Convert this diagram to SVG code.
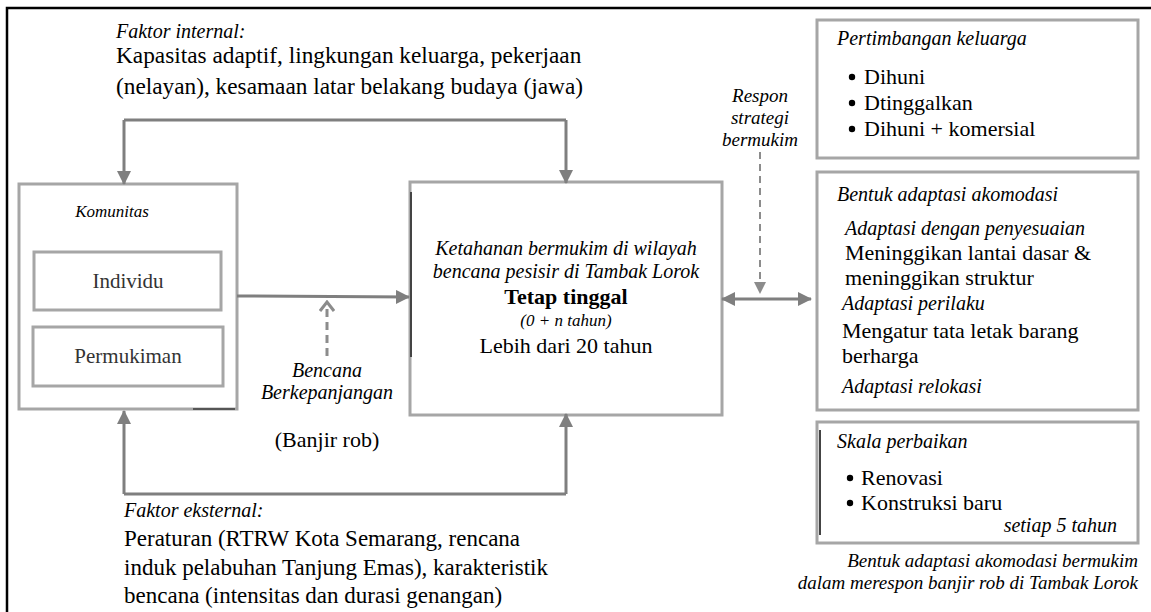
<svg xmlns="http://www.w3.org/2000/svg" width="1151" height="612" viewBox="0 0 1151 612">
<defs>
<marker id="ah" viewBox="0 0 14 14" refX="13" refY="7" markerWidth="14" markerHeight="14" markerUnits="userSpaceOnUse" orient="auto-start-reverse"><path d="M0 0 L14 7 L0 14 Z" fill="#7f7f7f"/></marker>
<marker id="ahs" viewBox="0 0 12 12" refX="11" refY="6" markerWidth="12" markerHeight="12" markerUnits="userSpaceOnUse" orient="auto"><path d="M0 0 L12 6 L0 12 Z" fill="#8c8c8c"/></marker>
<marker id="chev" viewBox="0 0 12 16" refX="10" refY="8" markerWidth="12" markerHeight="16" markerUnits="userSpaceOnUse" orient="auto"><path d="M1 1 L10 8 L1 15" fill="none" stroke="#8c8c8c" stroke-width="3"/></marker>
</defs>
<rect x="0" y="0" width="1151" height="612" fill="#fff"/>
<path d="M7 612 V8 H1151" fill="none" stroke="#000" stroke-width="2.5"/>

<g id="faktor-internal">
<text x="116" y="38" font-family="Liberation Serif" font-style="italic" font-size="20">Faktor internal:</text>
<text x="116" y="63" font-family="Liberation Serif" font-size="23.3">Kapasitas adaptif, lingkungan keluarga, pekerjaan</text>
<text x="116" y="94" font-family="Liberation Serif" font-size="23.3">(nelayan), kesamaan latar belakang budaya (jawa)</text>
</g>

<g id="komunitas">
<rect x="19" y="184" width="218" height="225" fill="#fff" stroke="#a6a6a6" stroke-width="3"/>
<line x1="193" y1="409" x2="235" y2="409" stroke="#555" stroke-width="2"/>
<text x="112" y="217" text-anchor="middle" font-family="Liberation Serif" font-style="italic" font-size="17">Komunitas</text>
</g>
<g id="individu">
<rect x="34" y="252" width="187" height="58" fill="#fff" stroke="#a6a6a6" stroke-width="3"/>
<text x="128" y="288" text-anchor="middle" fill="#333" font-family="Liberation Serif" font-size="21">Individu</text>
</g>
<g id="permukiman">
<rect x="33" y="327" width="190" height="59" fill="#fff" stroke="#a6a6a6" stroke-width="3"/>
<text x="128" y="363" text-anchor="middle" fill="#333" font-family="Liberation Serif" font-size="21">Permukiman</text>
</g>

<g id="ketahanan">
<rect x="410" y="182" width="312" height="233" fill="#fff" stroke="#a6a6a6" stroke-width="3"/>
<line x1="411" y1="192" x2="411" y2="357" stroke="#444" stroke-width="2"/>
<text x="566" y="255" text-anchor="middle" font-family="Liberation Serif" font-style="italic" font-size="20">Ketahanan bermukim di wilayah</text>
<text x="566" y="278" text-anchor="middle" font-family="Liberation Serif" font-style="italic" font-size="20">bencana pesisir di Tambak Lorok</text>
<text x="566" y="304" text-anchor="middle" font-family="Liberation Serif" font-weight="bold" font-size="22">Tetap tinggal</text>
<text x="566" y="326" text-anchor="middle" font-family="Liberation Serif" font-style="italic" font-size="17">(0 + n tahun)</text>
<text x="566" y="353" text-anchor="middle" font-family="Liberation Serif" font-size="22">Lebih dari 20 tahun</text>
</g>

<g id="bencana">
<text x="327" y="377" text-anchor="middle" font-family="Liberation Serif" font-style="italic" font-size="20">Bencana</text>
<text x="327" y="399" text-anchor="middle" font-family="Liberation Serif" font-style="italic" font-size="20">Berkepanjangan</text>
<text x="327" y="447" text-anchor="middle" font-family="Liberation Serif" font-size="22">(Banjir rob)</text>
</g>

<g id="faktor-eksternal">
<text x="124" y="517" font-family="Liberation Serif" font-style="italic" font-size="20">Faktor eksternal:</text>
<text x="124" y="546" font-family="Liberation Serif" font-size="23">Peraturan (RTRW Kota Semarang, rencana</text>
<text x="124" y="575" font-family="Liberation Serif" font-size="23">induk pelabuhan Tanjung Emas), karakteristik</text>
<text x="124" y="603" font-family="Liberation Serif" font-size="23">bencana (intensitas dan durasi genangan)</text>
</g>

<g id="respon">
<text x="760" y="102" text-anchor="middle" font-family="Liberation Serif" font-style="italic" font-size="19">Respon</text>
<text x="760" y="124" text-anchor="middle" font-family="Liberation Serif" font-style="italic" font-size="19">strategi</text>
<text x="760" y="146" text-anchor="middle" font-family="Liberation Serif" font-style="italic" font-size="19">bermukim</text>
</g>

<g id="pertimbangan">
<rect x="817" y="20" width="321" height="138" fill="#fff" stroke="#a6a6a6" stroke-width="3"/>
<text x="837" y="45" font-family="Liberation Serif" font-style="italic" font-size="20">Pertimbangan keluarga</text>
<circle cx="852" cy="77" r="3.2"/>
<text x="864" y="84" font-family="Liberation Serif" font-size="22">Dihuni</text>
<circle cx="852" cy="103" r="3.2"/>
<text x="864" y="110" font-family="Liberation Serif" font-size="22">Dtinggalkan</text>
<circle cx="852" cy="129" r="3.2"/>
<text x="864" y="136" font-family="Liberation Serif" font-size="22">Dihuni + komersial</text>
</g>

<g id="bentuk-adaptasi">
<rect x="817" y="172" width="321" height="238" fill="#fff" stroke="#a6a6a6" stroke-width="3"/>
<text x="837" y="201" font-family="Liberation Serif" font-style="italic" font-size="20">Bentuk adaptasi akomodasi</text>
<text x="845" y="235" font-family="Liberation Serif" font-style="italic" font-size="20">Adaptasi dengan penyesuaian</text>
<text x="845" y="260" font-family="Liberation Serif" font-size="22">Meninggikan lantai dasar &amp;</text>
<text x="845" y="285" font-family="Liberation Serif" font-size="22">meninggikan struktur</text>
<text x="842" y="310" font-family="Liberation Serif" font-style="italic" font-size="20">Adaptasi perilaku</text>
<text x="842" y="338" font-family="Liberation Serif" font-size="22">Mengatur tata letak barang</text>
<text x="842" y="363" font-family="Liberation Serif" font-size="22">berharga</text>
<text x="842" y="393" font-family="Liberation Serif" font-style="italic" font-size="20">Adaptasi relokasi</text>
</g>

<g id="skala">
<rect x="817" y="422" width="321" height="121" fill="#fff" stroke="#a6a6a6" stroke-width="3"/>
<line x1="820" y1="430" x2="820" y2="535" stroke="#444" stroke-width="2"/>
<text x="837" y="448" font-family="Liberation Serif" font-style="italic" font-size="20">Skala perbaikan</text>
<circle cx="850" cy="478" r="3.2"/>
<text x="861" y="485" font-family="Liberation Serif" font-size="22">Renovasi</text>
<circle cx="850" cy="503" r="3.2"/>
<text x="861" y="510" font-family="Liberation Serif" font-size="22">Konstruksi baru</text>
<text x="1117" y="532" text-anchor="end" font-family="Liberation Serif" font-style="italic" font-size="20">setiap 5 tahun</text>
</g>

<g id="caption">
<text x="1138" y="567" text-anchor="end" font-family="Liberation Serif" font-style="italic" font-size="19">Bentuk adaptasi akomodasi bermukim</text>
<text x="1138" y="589" text-anchor="end" font-family="Liberation Serif" font-style="italic" font-size="19">dalam merespon banjir rob di Tambak Lorok</text>
</g>

<g id="connectors" fill="none" stroke="#7f7f7f" stroke-width="3">
<path d="M124 120 H566"/>
<line x1="124" y1="120" x2="124" y2="184" marker-end="url(#ah)"/>
<line x1="566" y1="120" x2="566" y2="183" marker-end="url(#ah)"/>
<path d="M124 494 H566"/>
<line x1="124" y1="494" x2="124" y2="411" marker-end="url(#ah)"/>
<line x1="566" y1="494" x2="566" y2="414" marker-end="url(#ah)"/>
<line x1="237" y1="296" x2="409" y2="297" marker-end="url(#ah)"/>
<line x1="327" y1="356" x2="327" y2="302" stroke="#8c8c8c" stroke-dasharray="8 5" marker-end="url(#chev)"/>
<line x1="760" y1="152" x2="760" y2="293" stroke="#8c8c8c" stroke-width="2" stroke-dasharray="7 5" marker-end="url(#ahs)"/>
<line x1="722" y1="299" x2="811" y2="299" marker-start="url(#ah)" marker-end="url(#ah)"/>
</g>
</svg>
